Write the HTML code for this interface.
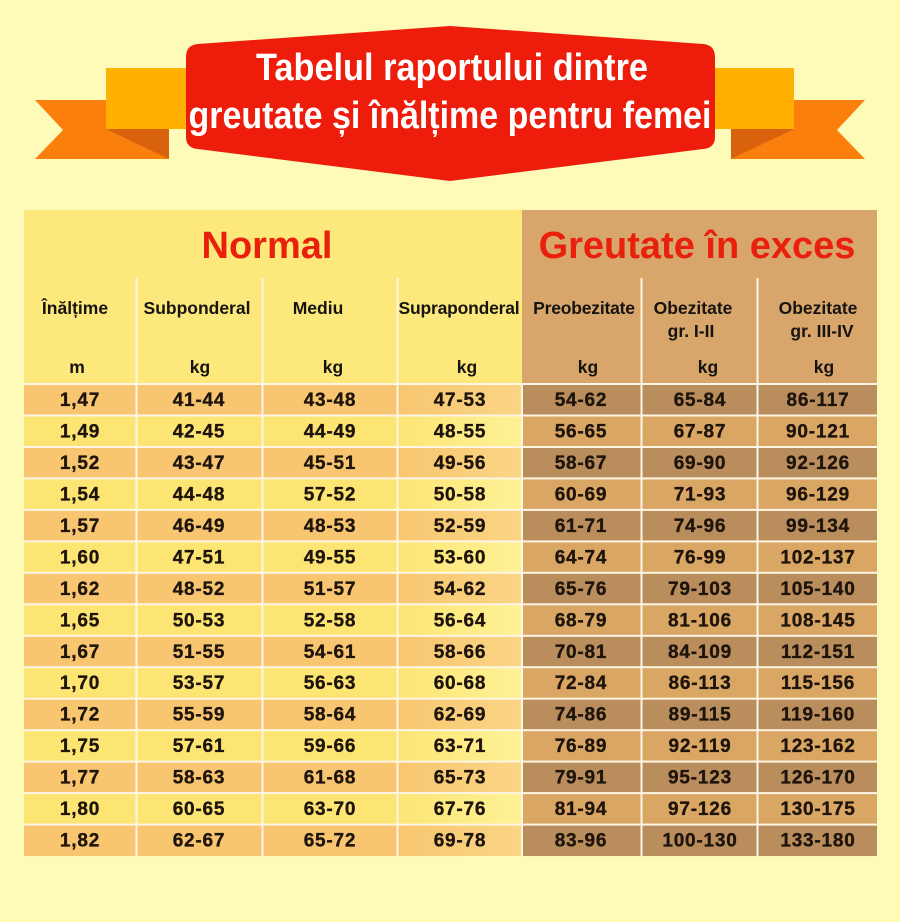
<!DOCTYPE html>
<html>
<head>
<meta charset="utf-8">
<style>
html,body{margin:0;padding:0;background:#fefbb9;}
svg{display:block;}
.t{font-family:"Liberation Sans",Arial,sans-serif;font-weight:bold;}
.d{font-family:"Liberation Sans",Arial,sans-serif;font-weight:bold;font-size:19px;fill:#1e140c;stroke:#1e140c;stroke-width:0.35px;letter-spacing:0.8px;text-anchor:middle;}
.h{font-family:"Liberation Sans",Arial,sans-serif;font-weight:bold;font-size:17.5px;fill:#161410;text-anchor:middle;}
</style>
</head>
<body>
<svg width="900" height="922" viewBox="0 0 900 922" xmlns="http://www.w3.org/2000/svg">
<defs>
<linearGradient id="gOdd" x1="0" x2="1" y1="0" y2="0">
<stop offset="0" stop-color="#f8c670"/><stop offset="1" stop-color="#fad585"/>
</linearGradient>
<linearGradient id="gEven" x1="0" x2="1" y1="0" y2="0">
<stop offset="0" stop-color="#fde574"/><stop offset="1" stop-color="#fdf296"/>
</linearGradient>
</defs>
<rect width="900" height="922" fill="#fefbb9"/>

<!-- left ribbon -->
<polygon points="35,100 169,100 169,159 35,159 63,130" fill="#fb7f0c"/>
<polygon points="106,129 169,129 169,159" fill="#d9620c"/>
<rect x="106" y="68" width="86" height="61" fill="#ffb000"/>
<!-- right ribbon -->
<polygon points="865,100 731,100 731,159 865,159 837,130" fill="#fb7f0c"/>
<polygon points="794,129 731,129 731,159" fill="#d9620c"/>
<rect x="708" y="68" width="86" height="61" fill="#ffb000"/>

<!-- red banner -->
<path d="M186,57 Q186,45 198,44 L450,26 L703,44 Q715,45 715,57 L715,137 Q715,148 703,149 L450,181 L198,149 Q186,148 186,137 Z" fill="#ee1c0b"/>
<text class="t" x="452" y="80" font-size="38" fill="#ffffff" text-anchor="middle" textLength="392" lengthAdjust="spacingAndGlyphs">Tabelul raportului dintre</text>
<text class="t" x="450" y="128" font-size="38" fill="#ffffff" text-anchor="middle" textLength="523" lengthAdjust="spacingAndGlyphs">greutate și înălțime pentru femei</text>

<!-- table header backgrounds -->
<rect x="24" y="210" width="498" height="174" fill="#fde87b"/>
<rect x="522" y="210" width="355" height="174" fill="#d8a56b"/>

<text class="t" x="267" y="258" font-size="38" fill="#e8200c" text-anchor="middle">Normal</text>
<text class="t" x="697" y="258" font-size="38" fill="#e8200c" text-anchor="middle">Greutate în exces</text>

<text class="h" x="75" y="314">Înălțime</text>
<text class="h" x="197" y="314">Subponderal</text>
<text class="h" x="318" y="314">Mediu</text>
<text class="h" x="459" y="314" letter-spacing="-0.2">Supraponderal</text>
<text class="h" x="584" y="314" letter-spacing="-0.2">Preobezitate</text>
<text class="h" x="693" y="314">Obezitate</text>
<text class="h" x="691" y="337">gr. I-II</text>
<text class="h" x="818" y="314">Obezitate</text>
<text class="h" x="822" y="337">gr. III-IV</text>

<text class="h" x="77" y="373">m</text>
<text class="h" x="200" y="373">kg</text>
<text class="h" x="333" y="373">kg</text>
<text class="h" x="467" y="373">kg</text>
<text class="h" x="588" y="373">kg</text>
<text class="h" x="708" y="373">kg</text>
<text class="h" x="824" y="373">kg</text>

<!-- rows -->
<g>
<rect x="24" y="384" width="373" height="31.47" fill="#f8c670"/><rect x="397" y="384" width="125" height="31.47" fill="url(#gOdd)"/><rect x="522" y="384" width="355" height="31.47" fill="#b98d5c"/>
<rect x="24" y="415.47" width="373" height="31.47" fill="#fde574"/><rect x="397" y="415.47" width="125" height="31.47" fill="url(#gEven)"/><rect x="522" y="415.47" width="355" height="31.47" fill="#d9a664"/>
<rect x="24" y="446.94" width="373" height="31.47" fill="#f8c670"/><rect x="397" y="446.94" width="125" height="31.47" fill="url(#gOdd)"/><rect x="522" y="446.94" width="355" height="31.47" fill="#b98d5c"/>
<rect x="24" y="478.41" width="373" height="31.47" fill="#fde574"/><rect x="397" y="478.41" width="125" height="31.47" fill="url(#gEven)"/><rect x="522" y="478.41" width="355" height="31.47" fill="#d9a664"/>
<rect x="24" y="509.88" width="373" height="31.47" fill="#f8c670"/><rect x="397" y="509.88" width="125" height="31.47" fill="url(#gOdd)"/><rect x="522" y="509.88" width="355" height="31.47" fill="#b98d5c"/>
<rect x="24" y="541.35" width="373" height="31.47" fill="#fde574"/><rect x="397" y="541.35" width="125" height="31.47" fill="url(#gEven)"/><rect x="522" y="541.35" width="355" height="31.47" fill="#d9a664"/>
<rect x="24" y="572.82" width="373" height="31.47" fill="#f8c670"/><rect x="397" y="572.82" width="125" height="31.47" fill="url(#gOdd)"/><rect x="522" y="572.82" width="355" height="31.47" fill="#b98d5c"/>
<rect x="24" y="604.29" width="373" height="31.47" fill="#fde574"/><rect x="397" y="604.29" width="125" height="31.47" fill="url(#gEven)"/><rect x="522" y="604.29" width="355" height="31.47" fill="#d9a664"/>
<rect x="24" y="635.76" width="373" height="31.47" fill="#f8c670"/><rect x="397" y="635.76" width="125" height="31.47" fill="url(#gOdd)"/><rect x="522" y="635.76" width="355" height="31.47" fill="#b98d5c"/>
<rect x="24" y="667.23" width="373" height="31.47" fill="#fde574"/><rect x="397" y="667.23" width="125" height="31.47" fill="url(#gEven)"/><rect x="522" y="667.23" width="355" height="31.47" fill="#d9a664"/>
<rect x="24" y="698.7" width="373" height="31.47" fill="#f8c670"/><rect x="397" y="698.7" width="125" height="31.47" fill="url(#gOdd)"/><rect x="522" y="698.7" width="355" height="31.47" fill="#b98d5c"/>
<rect x="24" y="730.17" width="373" height="31.47" fill="#fde574"/><rect x="397" y="730.17" width="125" height="31.47" fill="url(#gEven)"/><rect x="522" y="730.17" width="355" height="31.47" fill="#d9a664"/>
<rect x="24" y="761.64" width="373" height="31.47" fill="#f8c670"/><rect x="397" y="761.64" width="125" height="31.47" fill="url(#gOdd)"/><rect x="522" y="761.64" width="355" height="31.47" fill="#b98d5c"/>
<rect x="24" y="793.11" width="373" height="31.47" fill="#fde574"/><rect x="397" y="793.11" width="125" height="31.47" fill="url(#gEven)"/><rect x="522" y="793.11" width="355" height="31.47" fill="#d9a664"/>
<rect x="24" y="824.58" width="373" height="31.47" fill="#f8c670"/><rect x="397" y="824.58" width="125" height="31.47" fill="url(#gOdd)"/><rect x="522" y="824.58" width="355" height="31.47" fill="#b98d5c"/>
</g>

<!-- white grid lines -->
<g fill="#fdf6e6">
<rect x="24" y="383" width="853" height="2"/>
<rect x="24" y="414.5" width="853" height="2"/>
<rect x="24" y="446" width="853" height="2"/>
<rect x="24" y="477.4" width="853" height="2"/>
<rect x="24" y="508.9" width="853" height="2"/>
<rect x="24" y="540.4" width="853" height="2"/>
<rect x="24" y="571.8" width="853" height="2"/>
<rect x="24" y="603.3" width="853" height="2"/>
<rect x="24" y="634.8" width="853" height="2"/>
<rect x="24" y="666.2" width="853" height="2"/>
<rect x="24" y="697.7" width="853" height="2"/>
<rect x="24" y="729.2" width="853" height="2"/>
<rect x="24" y="760.6" width="853" height="2"/>
<rect x="24" y="792.1" width="853" height="2"/>
<rect x="24" y="823.6" width="853" height="2"/>
<rect x="135.5" y="278" width="2" height="578"/>
<rect x="261.5" y="278" width="2" height="578"/>
<rect x="396.5" y="278" width="2" height="578"/>
<rect x="521" y="384" width="2" height="472"/>
<rect x="640.5" y="278" width="2" height="578"/>
<rect x="756.5" y="278" width="2" height="578"/>
</g>

<!-- data -->
<g>
<text class="d" x="80" y="406">1,47</text><text class="d" x="199" y="406">41-44</text><text class="d" x="330" y="406">43-48</text><text class="d" x="460" y="406">47-53</text><text class="d" x="581" y="406">54-62</text><text class="d" x="700" y="406">65-84</text><text class="d" x="818" y="406">86-117</text>
<text class="d" x="80" y="437.5">1,49</text><text class="d" x="199" y="437.5">42-45</text><text class="d" x="330" y="437.5">44-49</text><text class="d" x="460" y="437.5">48-55</text><text class="d" x="581" y="437.5">56-65</text><text class="d" x="700" y="437.5">67-87</text><text class="d" x="818" y="437.5">90-121</text>
<text class="d" x="80" y="468.9">1,52</text><text class="d" x="199" y="468.9">43-47</text><text class="d" x="330" y="468.9">45-51</text><text class="d" x="460" y="468.9">49-56</text><text class="d" x="581" y="468.9">58-67</text><text class="d" x="700" y="468.9">69-90</text><text class="d" x="818" y="468.9">92-126</text>
<text class="d" x="80" y="500.4">1,54</text><text class="d" x="199" y="500.4">44-48</text><text class="d" x="330" y="500.4">57-52</text><text class="d" x="460" y="500.4">50-58</text><text class="d" x="581" y="500.4">60-69</text><text class="d" x="700" y="500.4">71-93</text><text class="d" x="818" y="500.4">96-129</text>
<text class="d" x="80" y="531.9">1,57</text><text class="d" x="199" y="531.9">46-49</text><text class="d" x="330" y="531.9">48-53</text><text class="d" x="460" y="531.9">52-59</text><text class="d" x="581" y="531.9">61-71</text><text class="d" x="700" y="531.9">74-96</text><text class="d" x="818" y="531.9">99-134</text>
<text class="d" x="80" y="563.4">1,60</text><text class="d" x="199" y="563.4">47-51</text><text class="d" x="330" y="563.4">49-55</text><text class="d" x="460" y="563.4">53-60</text><text class="d" x="581" y="563.4">64-74</text><text class="d" x="700" y="563.4">76-99</text><text class="d" x="818" y="563.4">102-137</text>
<text class="d" x="80" y="594.8">1,62</text><text class="d" x="199" y="594.8">48-52</text><text class="d" x="330" y="594.8">51-57</text><text class="d" x="460" y="594.8">54-62</text><text class="d" x="581" y="594.8">65-76</text><text class="d" x="700" y="594.8">79-103</text><text class="d" x="818" y="594.8">105-140</text>
<text class="d" x="80" y="626.3">1,65</text><text class="d" x="199" y="626.3">50-53</text><text class="d" x="330" y="626.3">52-58</text><text class="d" x="460" y="626.3">56-64</text><text class="d" x="581" y="626.3">68-79</text><text class="d" x="700" y="626.3">81-106</text><text class="d" x="818" y="626.3">108-145</text>
<text class="d" x="80" y="657.8">1,67</text><text class="d" x="199" y="657.8">51-55</text><text class="d" x="330" y="657.8">54-61</text><text class="d" x="460" y="657.8">58-66</text><text class="d" x="581" y="657.8">70-81</text><text class="d" x="700" y="657.8">84-109</text><text class="d" x="818" y="657.8">112-151</text>
<text class="d" x="80" y="689.2">1,70</text><text class="d" x="199" y="689.2">53-57</text><text class="d" x="330" y="689.2">56-63</text><text class="d" x="460" y="689.2">60-68</text><text class="d" x="581" y="689.2">72-84</text><text class="d" x="700" y="689.2">86-113</text><text class="d" x="818" y="689.2">115-156</text>
<text class="d" x="80" y="720.7">1,72</text><text class="d" x="199" y="720.7">55-59</text><text class="d" x="330" y="720.7">58-64</text><text class="d" x="460" y="720.7">62-69</text><text class="d" x="581" y="720.7">74-86</text><text class="d" x="700" y="720.7">89-115</text><text class="d" x="818" y="720.7">119-160</text>
<text class="d" x="80" y="752.2">1,75</text><text class="d" x="199" y="752.2">57-61</text><text class="d" x="330" y="752.2">59-66</text><text class="d" x="460" y="752.2">63-71</text><text class="d" x="581" y="752.2">76-89</text><text class="d" x="700" y="752.2">92-119</text><text class="d" x="818" y="752.2">123-162</text>
<text class="d" x="80" y="783.6">1,77</text><text class="d" x="199" y="783.6">58-63</text><text class="d" x="330" y="783.6">61-68</text><text class="d" x="460" y="783.6">65-73</text><text class="d" x="581" y="783.6">79-91</text><text class="d" x="700" y="783.6">95-123</text><text class="d" x="818" y="783.6">126-170</text>
<text class="d" x="80" y="815.1">1,80</text><text class="d" x="199" y="815.1">60-65</text><text class="d" x="330" y="815.1">63-70</text><text class="d" x="460" y="815.1">67-76</text><text class="d" x="581" y="815.1">81-94</text><text class="d" x="700" y="815.1">97-126</text><text class="d" x="818" y="815.1">130-175</text>
<text class="d" x="80" y="846.6">1,82</text><text class="d" x="199" y="846.6">62-67</text><text class="d" x="330" y="846.6">65-72</text><text class="d" x="460" y="846.6">69-78</text><text class="d" x="581" y="846.6">83-96</text><text class="d" x="700" y="846.6">100-130</text><text class="d" x="818" y="846.6">133-180</text>
</g>
</svg>
</body>
</html>
